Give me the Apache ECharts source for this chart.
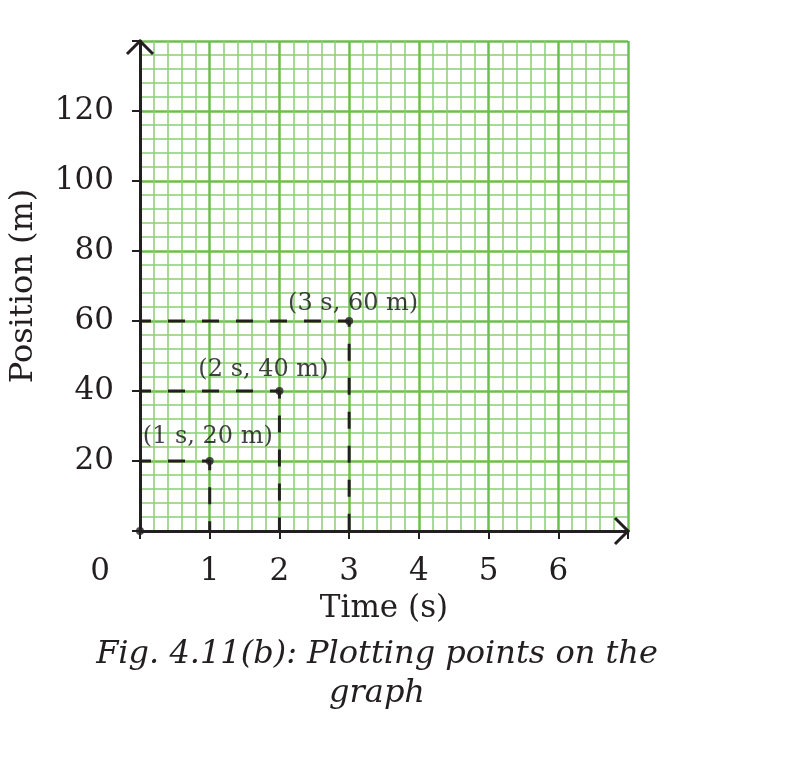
<!DOCTYPE html>
<html>
<head>
<meta charset="utf-8">
<script src="https://cdn.jsdelivr.net/npm/echarts@6/dist/echarts.min.js"></script>
<style>
html, body { margin: 0; padding: 0; background: #fff; }
#chart { width: 808px; height: 770px; }
</style>
</head>
<body>
<div id="chart"></div>
<script>
// plotted points (time in s, position in m)
var times = [1, 2, 3];
var positions = [20, 40, 60];
var pointLabels = ['(1 s, 20 m)', '(2 s, 40 m)', '(3 s, 60 m)'];
var labelOffsets = [[-2, -3], [-16, 0], [4, 4]];

var xTicks = [1, 2, 3, 4, 5, 6];
var yTicks = [20, 40, 60, 80, 100, 120];
var xMax = 7, yMax = 140;

var serif = '"DejaVu Serif", "Liberation Serif", serif';
var ink = '#231f20';
var majorGreen = '#6cbf4c';
var minorGreen = '#8bcf73';

var chart = echarts.init(document.getElementById('chart'));

var guideSeries = times.map(function (t, i) {
	return {
		type: 'line',
		data: [[0, positions[i]], [t, positions[i]], [t, 0]],
		symbol: 'none',
		silent: true,
		z: 3,
		lineStyle: {
			color: ink,
			width: 3,
			type: [17, 17],
			dashOffset: 6
		}
	};
});

var dots = [[0, 0]].concat(times.map(function (t, i) {
	return {
		value: [t, positions[i]],
		label: {
			show: true,
			formatter: pointLabels[i],
			position: 'top',
			offset: labelOffsets[i]
		}
	};
}));

function axisStyle(name, nameGap, margin, ticks) {
	return {
		type: 'value',
		min: 0,
		name: name,
		nameLocation: 'middle',
		nameGap: nameGap,
		nameTextStyle: { fontFamily: serif, fontSize: 31, color: ink },
		axisLine: { onZero: false, lineStyle: { color: ink, width: 3 } },
		axisTick: { show: true, length: 8, lineStyle: { color: ink, width: 2 } },
		axisLabel: {
			fontFamily: serif,
			fontSize: 31,
			color: ink,
			margin: margin,
			formatter: function (v) {
				return ticks.indexOf(v) >= 0 ? String(v) : '';
			}
		},
		splitLine: { show: true, lineStyle: { color: majorGreen, width: 2.5 } },
		minorTick: { show: false, splitNumber: 5 },
		minorSplitLine: { show: true, lineStyle: { color: minorGreen, width: 1.5 } }
	};
}

var xAxis = axisStyle('Time (s)', 62, 25, xTicks);
xAxis.max = xMax;
xAxis.interval = 1;
var yAxis = axisStyle('Position (m)', 100, 26, yTicks);
yAxis.max = yMax;
yAxis.interval = 20;
yAxis.nameTextStyle.fontSize = 32;

var option = {
	backgroundColor: '#fff',
	animation: false,
	grid: { left: 137, right: 180, top: 41, bottom: 239 },
	xAxis: xAxis,
	yAxis: yAxis,
	series: guideSeries.concat([{
		type: 'scatter',
		data: dots,
		symbol: 'circle',
		symbolSize: 8,
		z: 5,
		itemStyle: { color: ink },
		label: {
			fontFamily: serif,
			fontSize: 24,
			color: '#111'
		}
	}])
};

chart.setOption(option);

// open chevrons at the axis ends, plus the lone "0" and the caption
var o = chart.convertToPixel({ gridIndex: 0 }, [0, 0]);
var xEnd = chart.convertToPixel({ gridIndex: 0 }, [xMax, 0]);
var yEnd = chart.convertToPixel({ gridIndex: 0 }, [0, yMax]);
var a = 13;
var arrowStyle = { stroke: ink, lineWidth: 3, fill: null, lineJoin: 'miter' };

chart.setOption({
	graphic: [{
		type: 'polyline',
		z: 10,
		shape: { points: [[xEnd[0] - a, xEnd[1] - a], [xEnd[0], xEnd[1]], [xEnd[0] - a, xEnd[1] + a]] },
		style: arrowStyle
	}, {
		type: 'polyline',
		z: 10,
		shape: { points: [[yEnd[0] - a, yEnd[1] + a], [yEnd[0], yEnd[1]], [yEnd[0] + a, yEnd[1] + a]] },
		style: arrowStyle
	}, {
		type: 'text',
		x: o[0] - 40,
		y: 572,
		style: { text: '0', font: '31px ' + serif, fill: ink, align: 'center', verticalAlign: 'middle' }
	}, {
		type: 'text',
		x: 377,
		y: 655,
		style: { text: 'Fig. 4.11(b): Plotting points on the', font: 'italic 32px ' + serif, fill: ink, align: 'center', verticalAlign: 'middle' }
	}, {
		type: 'text',
		x: 377,
		y: 694,
		style: { text: 'graph', font: 'italic 32px ' + serif, fill: ink, align: 'center', verticalAlign: 'middle' }
	}]
});
</script>
</body>
</html>
